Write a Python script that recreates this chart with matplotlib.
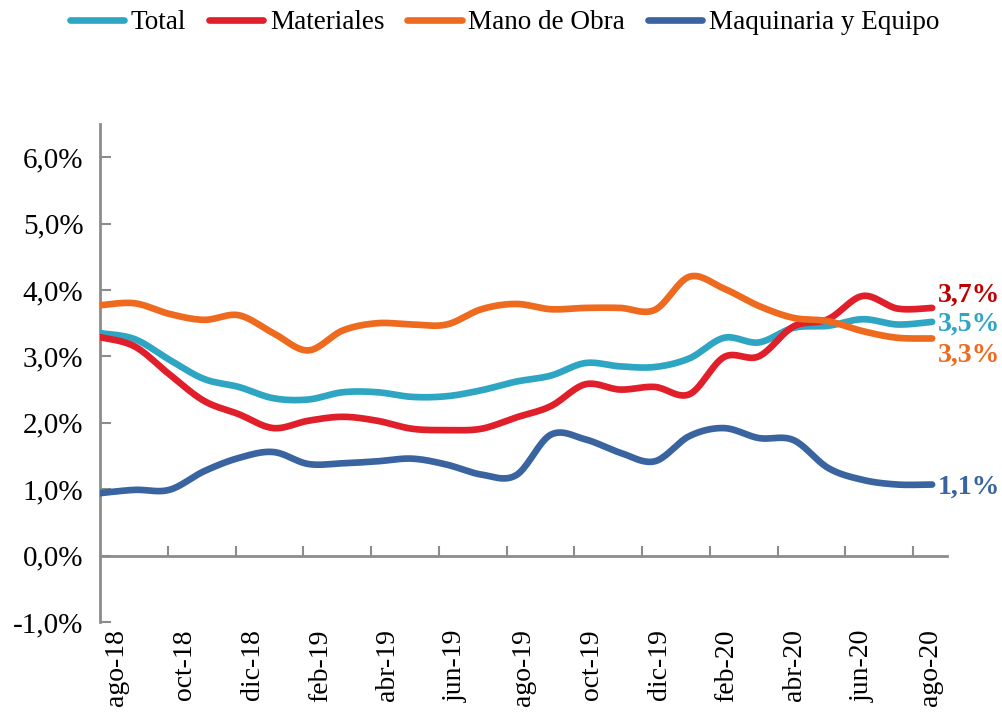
import numpy as np
import matplotlib
matplotlib.use("Agg")
import matplotlib.pyplot as plt
from matplotlib.ticker import FuncFormatter

# meses (ago-18 .. ago-20)
meses = ["ago-18", "sep-18", "oct-18", "nov-18", "dic-18", "ene-19", "feb-19",
         "mar-19", "abr-19", "may-19", "jun-19", "jul-19", "ago-19", "sep-19",
         "oct-19", "nov-19", "dic-19", "ene-20", "feb-20", "mar-20", "abr-20",
         "may-20", "jun-20", "jul-20", "ago-20"]

# variacion anual (%)
total = [3.35, 3.26, 2.95, 2.66, 2.54, 2.37, 2.35, 2.46, 2.46, 2.39, 2.40, 2.49,
         2.62, 2.71, 2.90, 2.85, 2.84, 2.97, 3.28, 3.21, 3.43, 3.46, 3.56, 3.48, 3.52]
materiales = [3.29, 3.15, 2.73, 2.33, 2.13, 1.92, 2.03, 2.09, 2.03, 1.91, 1.89, 1.91,
              2.08, 2.25, 2.58, 2.50, 2.54, 2.43, 2.99, 3.00, 3.45, 3.56, 3.91, 3.72, 3.73]
mano_obra = [3.77, 3.80, 3.64, 3.55, 3.62, 3.35, 3.09, 3.39, 3.50, 3.48, 3.48, 3.71,
             3.79, 3.71, 3.73, 3.73, 3.70, 4.20, 4.02, 3.76, 3.58, 3.53, 3.38, 3.28, 3.27]
maquinaria = [0.94, 0.99, 0.99, 1.27, 1.47, 1.56, 1.38, 1.39, 1.42, 1.46, 1.37, 1.22,
              1.21, 1.82, 1.75, 1.55, 1.42, 1.80, 1.92, 1.77, 1.74, 1.32, 1.14, 1.07, 1.07]

nombres = ["Total", "Materiales", "Mano de Obra", "Maquinaria y Equipo"]
colores = ["#2EA6C3", "#E01F2A", "#EE6A1F", "#3A64A0"]
etiquetas = ["3,5%", "3,7%", "3,3%", "1,1%"]
col_etiq = ["#2EA6C3", "#C00000", "#EE6A1F", "#3A64A0"]
desp_etiq = [-2, 9, -12, -2]  # desplazamiento vertical en puntos


def suavizar(y, n=20):
    # curva suavizada tipo Excel (Bezier con puntos de control 1/6)
    y = np.asarray(y, dtype=float)
    x = np.arange(len(y), dtype=float)
    p = np.column_stack([x, y])
    pp = np.vstack([p[0], p, p[-1]])
    t = np.linspace(0, 1, n)[:, None]
    out = []
    for i in range(len(p) - 1):
        p0, p1, p2, p3 = pp[i], pp[i + 1], pp[i + 2], pp[i + 3]
        c1 = p1 + (p2 - p0) / 6
        c2 = p2 - (p3 - p1) / 6
        seg = ((1 - t) ** 3) * p1 + 3 * ((1 - t) ** 2) * t * c1 + 3 * (1 - t) * t ** 2 * c2 + t ** 3 * p2
        out.append(seg if i == 0 else seg[1:])
    out = np.vstack(out)
    return out[:, 0], out[:, 1]


plt.rcParams["font.family"] = ["Liberation Serif", "DejaVu Serif"]
gris = "#8C8C8C"

fig = plt.figure(figsize=(10.03, 7.17), dpi=100)
ax = fig.add_axes([0.0997, 0.1325, 0.8445, 0.6946])

# eje de categorias
n = len(meses)
ax.set_xlim(-0.5, n - 0.5)
ax.set_ylim(-1.0, 6.5)
ax.set_xticks(np.arange(0, n, 2))
ax.set_xticklabels(meses[::2])
ax.set_xticks(np.arange(1.5, n - 1, 2), minor=True)
ax.tick_params(axis="x", which="major", length=0, pad=53, labelsize=20, labelrotation=90)
ax.tick_params(axis="x", which="minor", direction="in", length=7, width=1.5, color=gris)
ax.set_yticks(np.arange(-1, 7, 1))
ax.yaxis.set_major_formatter(FuncFormatter(lambda v, p: f"{v:.1f}%".replace(".", ",")))
ax.tick_params(axis="y", direction="in", length=8, width=1.5, color=gris, labelsize=21, pad=12)

for s in ["top", "right"]:
    ax.spines[s].set_visible(False)
ax.spines["left"].set_color(gris)
ax.spines["left"].set_linewidth(2)
ax.spines["bottom"].set_position(("data", 0))
ax.spines["bottom"].set_color(gris)
ax.spines["bottom"].set_linewidth(2)

# lineas en un eje gemelo (las curvas arrancan en el eje vertical)
axl = ax.twiny()
axl.set_xlim(0, 24.43)
axl.axis("off")

series = [total, materiales, mano_obra, maquinaria]
handles = []
for serie, nom, col in zip(series, nombres, colores):
    xs, ys = suavizar(serie)
    h, = axl.plot(xs, ys, color=col, lw=4.8, solid_capstyle="round", label=nom)
    handles.append(h)

for serie, et, col, dy in zip(series, etiquetas, col_etiq, desp_etiq):
    axl.annotate(et, xy=(len(serie) - 1, serie[-1]), xytext=(4, dy),
                 textcoords="offset points", ha="left", va="center",
                 fontsize=20, fontweight="bold", color=col, annotation_clip=False)

fig.legend(handles=handles, loc="upper center", bbox_to_anchor=(0.503, 1.02),
           ncol=4, frameon=False, fontsize=19.5, handlelength=2.0,
           handletextpad=0.25, columnspacing=0.85)

fig.savefig("out.png", dpi=100)
